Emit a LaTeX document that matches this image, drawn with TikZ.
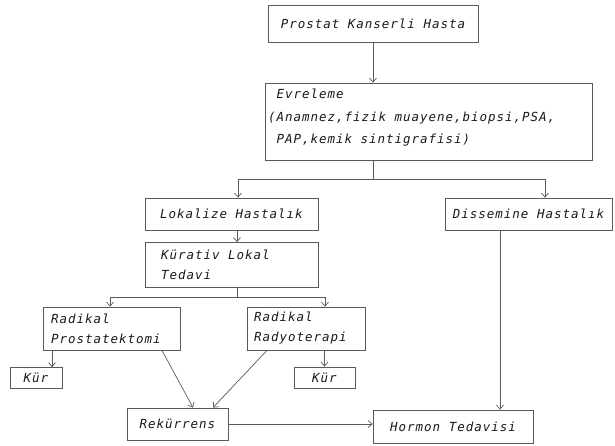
\documentclass[tikz,border=0pt]{standalone}
\usepackage{fontspec}
\newfontfamily\tw[LetterSpace=7.8]{DejaVu Sans Mono}
\usetikzlibrary{arrows.meta}
\begin{document}
\begin{tikzpicture}[x=1pt,y=-1pt,
  box/.style={draw=black!65, line width=0.8pt, inner sep=0pt, text=black!90,
    font=\tw\itshape\fontsize{12.5}{20}\selectfont},
  txt/.style={inner sep=0pt, align=left, text=black!90,
    font=\tw\itshape\fontsize{12.5}{20}\selectfont},
  ln/.style={draw=black!65, line width=0.7pt},
  arr/.style={ln, -{Straight Barb[length=4pt,width=7pt]}}]
\useasboundingbox (0,0) rectangle (615,445);

% boxes
\node[box, minimum width=210pt, minimum height=37pt] (p1) at (373,23.5) {Prostat Kanserli Hasta};
\node[box, minimum width=327pt, minimum height=77pt] (ev) at (428.5,121.5) {};
\node[txt, anchor=west, font=\tw\itshape\fontsize{12.5}{22.5}\selectfont] (evt) at (268,118)
  {\hspace*{8.5pt}Evreleme\\(Anamnez,fizik muayene,biopsi,PSA,\\\hspace*{8.5pt}PAP,kemik sintigrafisi)};
\node[box, minimum width=173pt, minimum height=32pt] (lo) at (231.5,214) {Lokalize Hastalık};
\node[box, minimum width=167pt, minimum height=32pt] (di) at (528.5,214) {Dissemine Hastalık};
\node[box, minimum width=173pt, minimum height=45pt] (ku) at (231.5,265) {};
\node[txt, anchor=west] (kut) at (161,265) {Kürativ Lokal\\Tedavi};
\node[box, minimum width=137pt, minimum height=43pt] (rp) at (111.5,328.5) {};
\node[txt, anchor=west] (rpt) at (51,328.5) {Radikal\\Prostatektomi};
\node[box, minimum width=118pt, minimum height=43pt] (rr) at (306,328.5) {};
\node[txt, anchor=west] (rrt) at (254,328.5) {Radikal\\Radyoterapi};
\node[box, minimum width=52pt, minimum height=21pt] (k1) at (36,378) {Kür};
\node[box, minimum width=61pt, minimum height=21pt] (k2) at (324.5,377.5) {Kür};
\node[box, minimum width=101pt, minimum height=32pt] (re) at (177.5,424) {Rekürrens};
\node[box, minimum width=160pt, minimum height=33pt] (ho) at (453,426.5) {Hormon Tedavisi};

% helper coordinates
\coordinate (br) at (373,179);
\coordinate (bl) at (238,179);
\coordinate (bR) at (545,179);
\coordinate (c1) at (237,0);
\coordinate (sp) at (237,297);
\coordinate (sl) at (110,297);
\coordinate (sr) at (325,297);
\coordinate (c2) at (52,0);
\coordinate (d1) at (162,0);
\coordinate (d2) at (193,0);
\coordinate (d3) at (267,0);
\coordinate (d4) at (213,0);
\coordinate (c3) at (500,0);

% connectors
\draw[arr] (p1.south) -- (p1.south |- ev.north);
\draw[ln] (br |- ev.south) -- (br);
\draw[arr] (br) -| (bl |- lo.north);
\draw[arr] (br) -| (bR |- di.north);
\draw[arr] (c1 |- lo.south) -- (c1 |- ku.north);
\draw[ln] (c1 |- ku.south) -- (sp);
\draw[arr] (sp) -| (sl |- rp.north);
\draw[arr] (sp) -| (sr |- rr.north);
\draw[arr] (c2 |- rp.south) -- (c2 |- k1.north);
\draw[arr] (k2.north |- rr.south) -- (k2.north);
\draw[arr] (d1 |- rp.south) -- (d2 |- re.north);
\draw[arr] (d3 |- rr.south) -- (d4 |- re.north);
\draw[arr] (re.east) -- (re.east -| ho.west);
\draw[arr] (c3 |- di.south) -- (c3 |- ho.north);
\end{tikzpicture}
\end{document}
